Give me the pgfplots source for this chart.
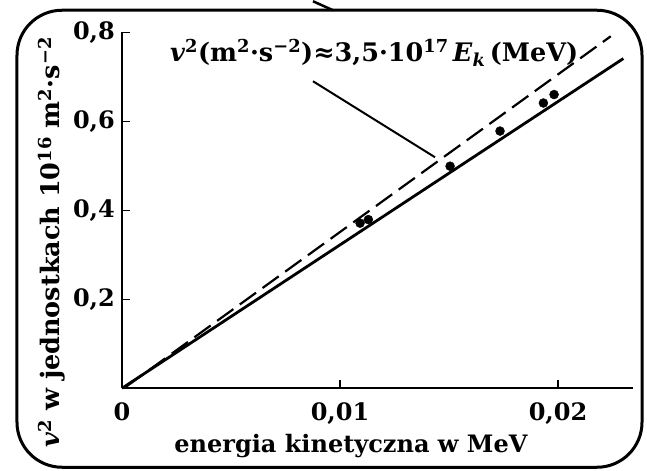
\documentclass[border=0pt]{standalone}
\usepackage{fontspec}
\setmainfont{DejaVu Serif}
\usepackage{pgfplots}
\pgfplotsset{compat=1.18}
\begin{document}
\begin{tikzpicture}
\path (-122bp,-82bp) rectangle (525bp,387bp);
\begin{axis}[
 scale only axis, width=511bp, height=356bp,
 xmin=0, xmax=0.02344, ymin=0, ymax=0.8,
 clip=false,
 scaled x ticks=false, scaled y ticks=false,
 axis x line=bottom, axis y line=left,
 axis line style={-, line width=1.8bp},
 tick align=inside, major tick length=8bp,
 tick style={line width=1.5bp, black},
 xtick={0,0.01,0.02}, xticklabels={0,{0,01},{0,02}},
 ytick={0.2,0.4,0.6,0.8}, yticklabels={{0,2},{0,4},{0,6},{0,8}},
 ticklabel style={font=\bfseries\fontsize{24bp}{28bp}\selectfont, inner sep=0pt},
 xticklabel style={anchor=base, yshift=-32bp},
 yticklabel style={anchor=east, xshift=-7bp},
 xlabel={energia kinetyczna w MeV},
 every axis x label/.style={at={([yshift=-64.7bp]axis description cs:0.448,0)}, anchor=base, inner sep=0pt, font=\bfseries\fontsize{24bp}{28bp}\selectfont},
 ylabel={\textit{v}\textsuperscript{2} w jednostkach 10\textsuperscript{16} m\textsuperscript{2}·s\textsuperscript{−2}},
 every axis y label/.style={at={([xshift=-62bp]axis description cs:0,0.41)}, rotate=90, anchor=base, inner sep=0pt, font=\bfseries\fontsize{25.5bp}{30bp}\selectfont},
]
\addplot[black, line width=2.2bp, dash pattern=on 20bp off 8bp] coordinates {(0.0002,0.004) (0.02242,0.791)};
\addplot[black, line width=2.8bp] coordinates {(0,0) (0.0230,0.741)};
\addplot[black, only marks, mark=*, mark size=4.5bp] coordinates {
(0.01092,0.371) (0.01130,0.379) (0.01505,0.499) (0.01734,0.578) (0.01933,0.641) (0.01982,0.660)};
\end{axis}
\node[anchor=base west, inner sep=0pt, font=\bfseries\fontsize{25.5bp}{30bp}\selectfont] at (48bp,327bp)
 {\textit{v}\textsuperscript{2}(m\textsuperscript{2}·s\textsuperscript{−2})≈3,5·10\textsuperscript{17}\,\textit{E}\textsubscript{\textit{k}}\,(MeV)};
\draw[line width=2bp] (191bp,307bp) -- (313bp,231bp);
\draw[line width=2.5bp] (191bp,387bp) -- (211bp,378bp);
\draw[line width=3bp, rounded corners=45bp] (-105bp,-79bp) rectangle (520bp,378bp);
\end{tikzpicture}
\end{document}
